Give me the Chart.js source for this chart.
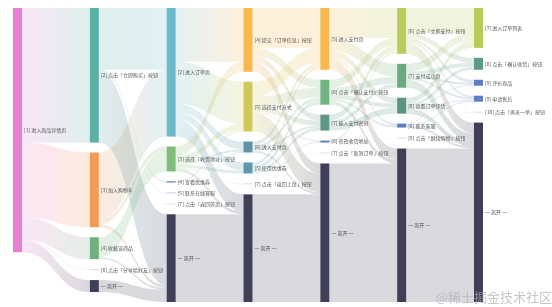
<!DOCTYPE html>
<html lang="zh">
<head>
  <meta charset="UTF-8">
  <title>用户行为路径桑基图</title>
  <script src="https://cdn.jsdelivr.net/npm/chart.js"></script>
  <style>
    body { margin: 0; background: #fff; }
    canvas { display: block; }
  </style>
</head>
<body>
  <canvas id="sankey" width="552" height="307"></canvas>

  <script>
    // 每一步的节点（从左到右）
    const step0 = ['[1] 进入商品详情页'];
    const step1 = ['[2] 点击「立即购买」按钮', '[3] 加入购物车', '[4] 收藏该商品', '[6] 点击「分享给好友」按钮', '一 离开 一'];
    const step2 = ['[2] 进入订单页', '[3] 选择「收货地址」按钮', '[4] 查看优惠券', '[5] 联系在线客服', '[7] 点击「返回首页」按钮', '一 离开 一'];
    const step3 = ['[4] 提交「订单信息」按钮', '[5] 选择支付方式', '[6] 进入支付页', '[5] 使用优惠券', '[7] 点击「返回上页」按钮', '一 离开 一'];
    const step4 = ['[5] 进入支付页', '[6] 点击「确认支付」按钮', '[7] 输入支付密码', '[6] 修改收货地址', '[7] 点击「取消订单」按钮', '一 离开 一'];
    const step5 = ['[6] 点击「立即支付」按钮', '[7] 支付成功页', '[8] 查看订单详情', '[8] 联系客服', '[9] 点击「继续购物」按钮', '一 离开 一'];
    const step6 = ['[7] 进入订单列表', '[8] 点击「确认收货」按钮', '[9] 评价商品', '[9] 申请售后', '[10] 点击「再来一单」按钮', '一 离开 一'];

    // 相邻两步之间的流量: [来源序号, 目标序号, 人数]
    const flow01 = [[0, 0, 1350], [0, 1, 750], [0, 2, 220], [0, 3, 10], [0, 4, 120]];
    const flow12 = [[0, 0, 620], [0, 2, 10], [0, 3, 10], [0, 5, 710],
                    [1, 0, 670], [1, 1, 50], [1, 5, 30],
                    [2, 1, 200], [2, 5, 20], [3, 4, 10], [4, 5, 120]];
    const flow23 = [[0, 0, 540], [0, 1, 420], [0, 2, 80], [0, 3, 80], [0, 5, 170],
                    [1, 0, 100], [1, 1, 60], [1, 2, 20], [1, 3, 30], [1, 4, 10], [1, 5, 30],
                    [2, 1, 10], [3, 1, 10], [4, 2, 10], [5, 5, 880]];
    const flow34 = [[0, 0, 400], [0, 1, 80], [0, 2, 60], [0, 5, 100],
                    [1, 0, 150], [1, 1, 100], [1, 2, 50], [1, 3, 10], [1, 5, 190],
                    [2, 0, 40], [2, 1, 30], [2, 2, 20], [2, 5, 20],
                    [3, 0, 30], [3, 1, 40], [3, 2, 30], [3, 4, 10],
                    [4, 3, 10], [5, 5, 1080]];
    const flow45 = [[0, 0, 300], [0, 1, 130], [0, 2, 60], [0, 3, 20], [0, 5, 110],
                    [1, 0, 80], [1, 1, 70], [1, 2, 40], [1, 3, 20], [1, 5, 40],
                    [2, 0, 60], [2, 1, 40], [2, 2, 60],
                    [3, 0, 20], [4, 4, 10], [5, 5, 1390]];
    const flow56 = [[0, 0, 250], [0, 1, 50], [0, 2, 30], [0, 3, 20], [0, 5, 110],
                    [1, 0, 80], [1, 1, 40], [1, 2, 20], [1, 3, 20], [1, 5, 80],
                    [2, 0, 60], [2, 1, 30], [2, 2, 10], [2, 3, 10], [2, 5, 50],
                    [3, 0, 10], [3, 3, 10], [3, 5, 20], [4, 4, 10], [5, 5, 1540]];

    const steps = [step0, step1, step2, step3, step4, step5, step6];
    const flows = [flow01, flow12, flow23, flow34, flow45, flow56];

    const DARK = '#3f3f58';
    const nodeColors = [
      ['#e97fd0'],
      ['#5cafa4', '#f29b57', '#72b07f', '#d6d6ef', DARK],
      ['#6bb9c9', '#7fbe7a', '#3f5fa8', '#c8c8ec', '#e4e4f0', DARK],
      ['#f8b84e', '#cfc95a', '#5e93a6', '#5f98a8', '#dcdce8', DARK],
      ['#f8b84e', '#72b382', '#5e9688', '#5b7fc0', '#dcdce8', DARK],
      ['#bccb5a', '#6aaa7e', '#5c9482', '#5b7fc0', '#dcdce8', DARK],
      ['#b8cc5a', '#5b9a8a', '#5b7fc0', '#5b7fc0', '#dcdce8', DARK]
    ];
    const NODE_W = 9;
    const GAP = 100; // 节点间距（数值单位）

    // 布局：节点值 = max(流入, 流出)，每列从上往下堆叠
    const nodes = steps.map((names, c) => names.map((name, i) => ({
      name, col: c, idx: i, color: nodeColors[c][i], inV: 0, outV: 0, out: [], inc: []
    })));
    const links = [];
    flows.forEach((fl, c) => {
      fl.forEach(([s, t, v]) => {
        const l = { src: nodes[c][s], tgt: nodes[c + 1][t], value: v };
        l.src.outV += v; l.tgt.inV += v;
        l.src.out.push(l); l.tgt.inc.push(l);
        links.push(l);
      });
    });
    let yMax = 0;
    nodes.forEach(col => {
      let y = 0;
      col.forEach(n => {
        n.value = Math.max(n.inV, n.outV);
        n.y0 = y; n.y1 = y + n.value;
        y = n.y1 + GAP;
      });
      yMax = Math.max(yMax, y - GAP);
    });
    nodes.flat().forEach(n => {
      let y = n.y0;
      n.out.sort((a, b) => a.tgt.y0 - b.tgt.y0).forEach(l => { l.sy0 = y; y += l.value; l.sy1 = y; });
      y = n.y0;
      n.inc.sort((a, b) => a.src.y0 - b.src.y0).forEach(l => { l.ty0 = y; y += l.value; l.ty1 = y; });
    });

    function rgba(hex, a) {
      const n = parseInt(hex.slice(1), 16);
      return `rgba(${n >> 16}, ${(n >> 8) & 255}, ${n & 255}, ${a})`;
    }

    const sankeyPlugin = {
      id: 'sankey',
      beforeDatasetsDraw(chart) {
        const { ctx, scales: { x, y } } = chart;
        ctx.save();
        // 连线
        links.forEach(l => {
          const xs = x.getPixelForValue(l.src.col) + NODE_W;
          const xt = x.getPixelForValue(l.tgt.col);
          const xm = (xs + xt) / 2;
          const a0 = y.getPixelForValue(l.sy0), a1 = y.getPixelForValue(l.sy1);
          const b0 = y.getPixelForValue(l.ty0), b1 = y.getPixelForValue(l.ty1);
          const g = ctx.createLinearGradient(xs, 0, xt, 0);
          g.addColorStop(0, rgba(l.src.color, 0.2));
          g.addColorStop(1, rgba(l.tgt.color, 0.2));
          ctx.fillStyle = g;
          ctx.beginPath();
          ctx.moveTo(xs, a0);
          ctx.bezierCurveTo(xm, a0, xm, b0, xt, b0);
          ctx.lineTo(xt, b1);
          ctx.bezierCurveTo(xm, b1, xm, a1, xs, a1);
          ctx.closePath();
          ctx.fill();
        });
        // 节点与标签
        ctx.font = '5px "Noto Sans CJK SC", sans-serif';
        ctx.textBaseline = 'middle';
        nodes.flat().forEach(n => {
          const px = x.getPixelForValue(n.col);
          const p0 = y.getPixelForValue(n.y0), p1 = y.getPixelForValue(n.y1);
          ctx.fillStyle = n.color;
          ctx.fillRect(px, p0, NODE_W, Math.max(p1 - p0, 0.5));
          ctx.fillStyle = '#555';
          ctx.fillText(n.name, px + NODE_W + 2, (p0 + p1) / 2);
        });
        // 水印
        ctx.font = '13px "Noto Sans CJK SC", sans-serif';
        ctx.textBaseline = 'alphabetic';
        ctx.textAlign = 'right';
        ctx.fillStyle = 'rgba(175, 175, 175, 0.7)';
        ctx.fillText('@稀土掘金技术社区', 552, 302);
        ctx.restore();
      }
    };

    new Chart(document.getElementById('sankey'), {
      type: 'scatter',
      data: { datasets: [] },
      options: {
        responsive: false,
        animation: false,
        layout: { padding: { left: 13, right: 78, top: 8, bottom: 5 } },
        scales: {
          x: { type: 'linear', min: 0, max: steps.length - 1, display: false },
          y: { type: 'linear', min: 0, max: yMax, reverse: true, display: false }
        },
        plugins: { legend: { display: false }, tooltip: { enabled: false } }
      },
      plugins: [sankeyPlugin]
    });
  </script>
</body>
</html>
